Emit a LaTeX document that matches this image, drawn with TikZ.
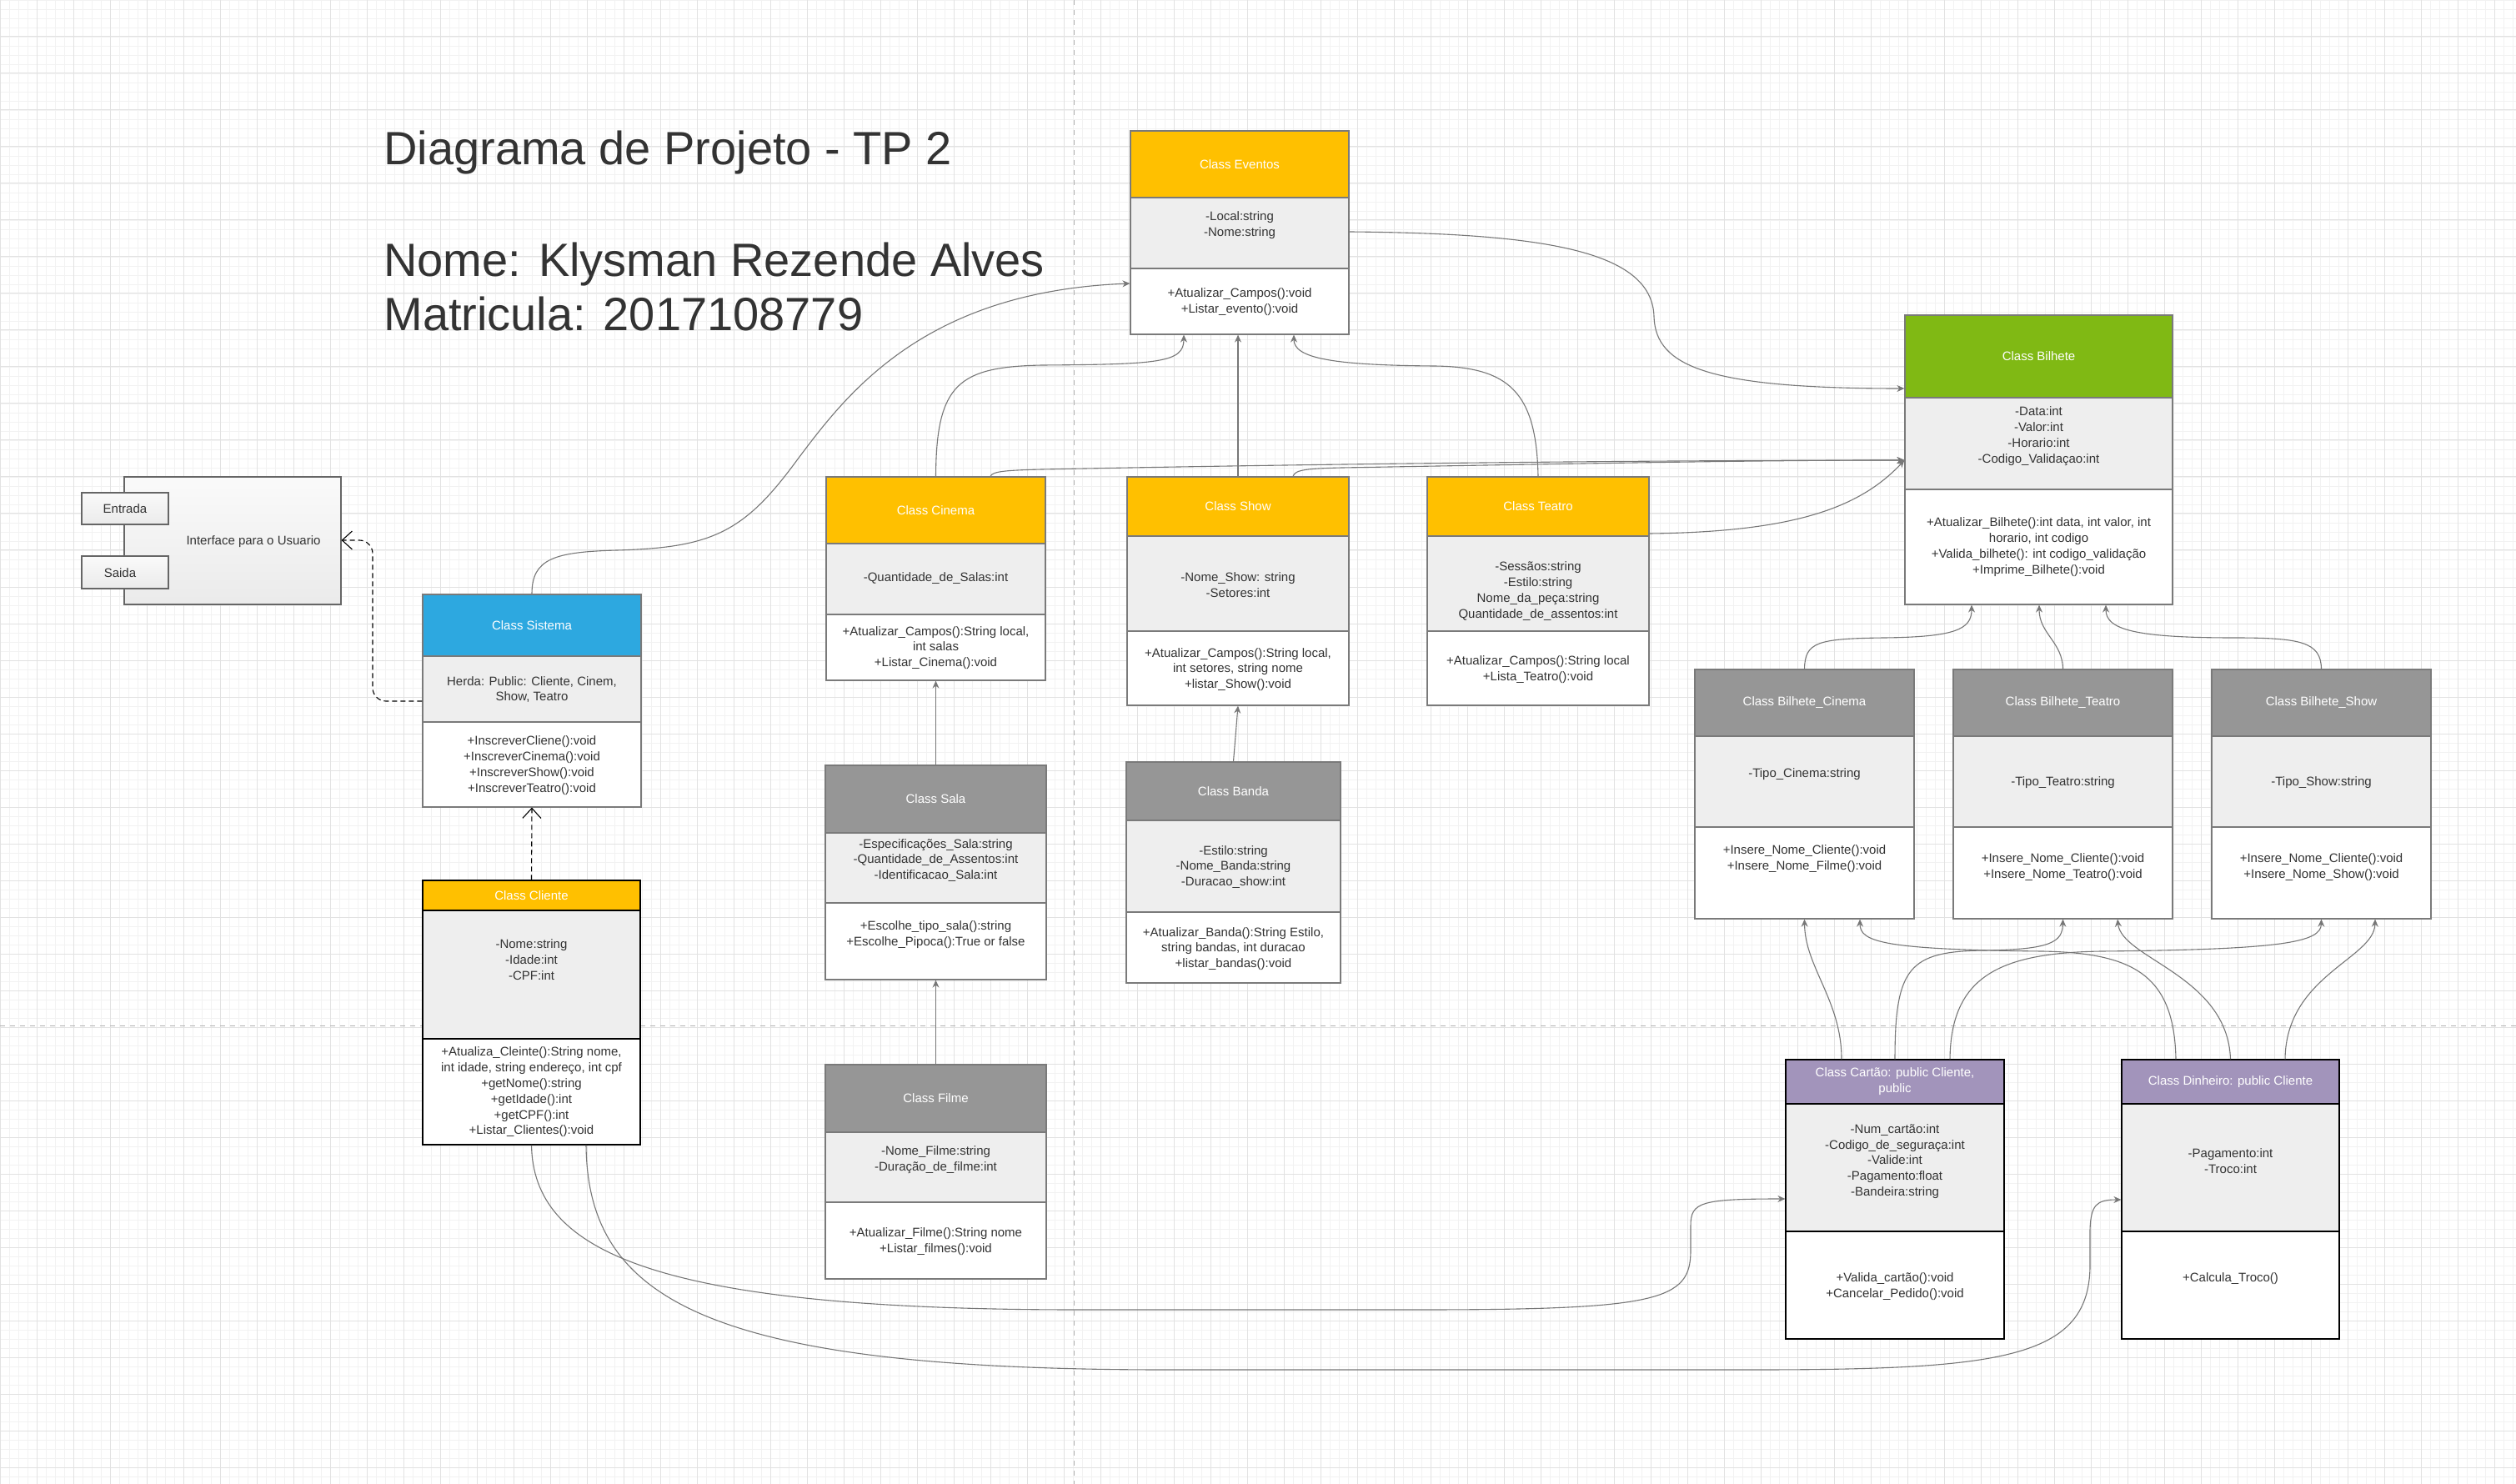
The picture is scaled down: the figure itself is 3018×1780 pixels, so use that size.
\documentclass[tikz,border=0pt]{standalone}
\usepackage{fontspec}
\setmainfont{Liberation Sans}
\usetikzlibrary{arrows.meta,fit}

\definecolor{hdryellow}{HTML}{FFC000}
\definecolor{hdrgreen}{HTML}{80B914}
\definecolor{hdrblue}{HTML}{2DA8E0}
\definecolor{hdrgray}{HTML}{969696}
\definecolor{hdrpurple}{HTML}{A294BB}
\definecolor{attrgray}{HTML}{EEEEEE}
\definecolor{boxline}{HTML}{7A7A7A}
\definecolor{txtdark}{HTML}{333333}
\definecolor{lnk}{HTML}{777777}
\definecolor{gridmin}{HTML}{F2F2F2}
\definecolor{gridmaj}{HTML}{E2E2E2}

\tikzset{
	sect/.style={inner sep=0pt, line width=0.6pt},
	ttl/.style={inner sep=0pt, align=center, text=white, font=\fontsize{7.5}{9.4}\selectfont},
	txt/.style={inner sep=0pt, align=center, text=txtdark, font=\fontsize{7.5}{9.4}\selectfont},
	bigtitle/.style={inner sep=0pt, anchor=base west, text=txtdark, font=\fontsize{28}{34}\selectfont},
	iface/.style={inner sep=0pt, draw=black!60, line width=0.6pt, top color=black!2, bottom color=black!8},
	conn/.style={draw=lnk, line width=0.55pt, -{Stealth[length=4.5pt,width=4pt]}},
	dep/.style={draw=black, line width=0.55pt, dash pattern=on 3pt off 2pt, -{Straight Barb[length=6pt,width=11pt]}},
	pagebrk/.style={draw=black!30, line width=0.5pt, dash pattern=on 3pt off 3pt},
}

\newcommand{\classbox}[9]{%
	\node[sect, fill=#2, draw=#3, fit={(#4,#6) (#5,#7)}] (#1-h) {};
	\node[sect, fill=attrgray, draw=#3, fit={(#4,#7) (#5,#8)}] (#1-a) {};
	\node[sect, fill=white, draw=#3, fit={(#4,#8) (#5,#9)}] (#1-m) {};
	\node[sect, draw=#3, fit={(#4,#6) (#5,#9)}] (#1) {};
}

\begin{document}
\begin{tikzpicture}[x=0.5pt, y=-0.5pt]
	\useasboundingbox (0,0) rectangle (3018,1780);
	\fill[white] (0,0) rectangle (3018,1780);
	\foreach \gx in {0,11,...,3018} \draw[gridmin, line width=0.4pt] (\gx,0) -- (\gx,1780);
	\foreach \gy in {0,11,...,1780} \draw[gridmin, line width=0.4pt] (0,\gy) -- (3018,\gy);
	\foreach \gx in {0,44,...,3018} \draw[gridmaj, line width=0.5pt] (\gx,0) -- (\gx,1780);
	\foreach \gy in {0,44,...,1780} \draw[gridmaj, line width=0.5pt] (0,\gy) -- (3018,\gy);
	\draw[pagebrk] (1288,0) -- (1288,1780);
	\draw[pagebrk] (0,1230) -- (3018,1230);

	\node[bigtitle] (titulo) at (460,198) {Diagrama de Projeto - TP 2};
	\node[bigtitle] (nome) at (460,332) {Nome: Klysman Rezende Alves};
	\node[bigtitle] (matricula) at (460,397) {Matricula: 2017108779};

	\node[iface, fit={(149,572) (409,725)}] (interface) {};
	\node[iface, fit={(98,591) (202,629)}] (entrada) {};
	\node[iface, fit={(98,667) (202,706)}] (saida) {};
	\node[txt] (interface-t) at (304,650) {Interface para o Usuario};
	\node[txt] (entrada-t) at (entrada) {Entrada};
	\node[txt] (saida-t) at (144,687) {Saida};

	\classbox{eventos}{hdryellow}{boxline}{1356}{1618}{157}{237}{322}{401}
	\node[ttl] (eventos-tt) at (eventos-h) {Class Eventos};
	\node[txt] (eventos-at) at (eventos-a |- 0,270) {-Local:string\\-Nome:string};
	\node[txt] (eventos-mt) at (eventos-m |- 0,362) {+Atualizar\_Campos():void\\+Listar\_evento():void};

	\classbox{bilhete}{hdrgreen}{boxline}{2285}{2606}{378}{477}{587}{725}
	\node[ttl] (bilhete-tt) at (bilhete-h) {Class Bilhete};
	\node[txt] (bilhete-at) at (bilhete-a |- 0,523) {-Data:int\\-Valor:int\\-Horario:int\\-Codigo\_Validaçao:int};
	\node[txt] (bilhete-mt) at (bilhete-m |- 0,656) {+Atualizar\_Bilhete():int data, int valor, int\\horario, int codigo\\+Valida\_bilhete(): int codigo\_validação\\+Imprime\_Bilhete():void};

	\classbox{cinema}{hdryellow}{boxline}{991}{1254}{572}{652}{737}{816}
	\node[ttl] (cinema-tt) at (cinema-h) {Class Cinema};
	\node[txt] (cinema-at) at (cinema-a |- 0,694) {-Quantidade\_de\_Salas:int};
	\node[txt] (cinema-mt) at (cinema-m |- 0,777) {+Atualizar\_Campos():String local,\\int salas\\+Listar\_Cinema():void};

	\classbox{show}{hdryellow}{boxline}{1352}{1618}{572}{643}{757}{846}
	\node[ttl] (show-tt) at (show-h) {Class Show};
	\node[txt] (show-at) at (show-a |- 0,702) {-Nome\_Show: string\\-Setores:int};
	\node[txt] (show-mt) at (show-m |- 0,803) {+Atualizar\_Campos():String local,\\int setores, string nome\\+listar\_Show():void};

	\classbox{teatro}{hdryellow}{boxline}{1712}{1978}{572}{643}{757}{846}
	\node[ttl] (teatro-tt) at (teatro-h) {Class Teatro};
	\node[txt] (teatro-at) at (teatro-a |- 0,709) {-Sessãos:string\\-Estilo:string\\Nome\_da\_peça:string\\Quantidade\_de\_assentos:int};
	\node[txt] (teatro-mt) at (teatro-m |- 0,803) {+Atualizar\_Campos():String local\\+Lista\_Teatro():void};

	\classbox{sistema}{hdrblue}{boxline}{507}{769}{713}{787}{866}{968}
	\node[ttl] (sistema-tt) at (sistema-h) {Class Sistema};
	\node[txt] (sistema-at) at (sistema-a |- 0,827) {Herda: Public: Cliente, Cinem,\\Show, Teatro};
	\node[txt] (sistema-mt) at (sistema-m |- 0,918) {+InscreverCliene():void\\+InscreverCinema():void\\+InscreverShow():void\\+InscreverTeatro():void};

	\classbox{cliente}{hdryellow}{black}{507}{768}{1056}{1092}{1246}{1373}
	\node[ttl] (cliente-tt) at (cliente-h) {Class Cliente};
	\node[txt] (cliente-at) at (cliente-a |- 0,1151) {-Nome:string\\-Idade:int\\-CPF:int};
	\node[txt] (cliente-mt) at (cliente-m |- 0,1310) {+Atualiza\_Cleinte():String nome,\\int idade, string endereço, int cpf\\+getNome():string\\+getIdade():int\\+getCPF():int\\+Listar\_Clientes():void};

	\classbox{sala}{hdrgray}{boxline}{990}{1255}{918}{999}{1083}{1175}
	\node[ttl] (sala-tt) at (sala-h) {Class Sala};
	\node[txt] (sala-at) at (sala-a |- 0,1032) {-Especificações\_Sala:string\\-Quantidade\_de\_Assentos:int\\-Identificacao\_Sala:int};
	\node[txt] (sala-mt) at (sala-m |- 0,1121) {+Escolhe\_tipo\_sala():string\\+Escolhe\_Pipoca():True or false};

	\classbox{filme}{hdrgray}{boxline}{990}{1255}{1277}{1358}{1442}{1534}
	\node[ttl] (filme-tt) at (filme-h) {Class Filme};
	\node[txt] (filme-at) at (filme-a |- 0,1391) {-Nome\_Filme:string\\-Duração\_de\_filme:int};
	\node[txt] (filme-mt) at (filme-m |- 0,1489) {+Atualizar\_Filme():String nome\\+Listar\_filmes():void};

	\classbox{banda}{hdrgray}{boxline}{1351}{1608}{914}{984}{1094}{1179}
	\node[ttl] (banda-tt) at (banda-h) {Class Banda};
	\node[txt] (banda-at) at (banda-a |- 0,1040) {-Estilo:string\\-Nome\_Banda:string\\-Duracao\_show:int};
	\node[txt] (banda-mt) at (banda-m |- 0,1138) {+Atualizar\_Banda():String Estilo,\\string bandas, int duracao\\+listar\_bandas():void};

	\classbox{bcinema}{hdrgray}{boxline}{2033}{2296}{803}{883}{992}{1102}
	\node[ttl] (bcinema-tt) at (bcinema-h) {Class Bilhete\_Cinema};
	\node[txt] (bcinema-at) at (bcinema-a |- 0,929) {-Tipo\_Cinema:string};
	\node[txt] (bcinema-mt) at (bcinema-m |- 0,1030) {+Insere\_Nome\_Cliente():void\\+Insere\_Nome\_Filme():void};

	\classbox{bteatro}{hdrgray}{boxline}{2343}{2606}{803}{883}{992}{1102}
	\node[ttl] (bteatro-tt) at (bteatro-h) {Class Bilhete\_Teatro};
	\node[txt] (bteatro-at) at (bteatro-a |- 0,939) {-Tipo\_Teatro:string};
	\node[txt] (bteatro-mt) at (bteatro-m |- 0,1040) {+Insere\_Nome\_Cliente():void\\+Insere\_Nome\_Teatro():void};

	\classbox{bshow}{hdrgray}{boxline}{2653}{2916}{803}{883}{992}{1102}
	\node[ttl] (bshow-tt) at (bshow-h) {Class Bilhete\_Show};
	\node[txt] (bshow-at) at (bshow-a |- 0,939) {-Tipo\_Show:string};
	\node[txt] (bshow-mt) at (bshow-m |- 0,1040) {+Insere\_Nome\_Cliente():void\\+Insere\_Nome\_Show():void};

	\classbox{cartao}{hdrpurple}{black}{2142}{2404}{1271}{1324}{1477}{1606}
	\node[ttl] (cartao-tt) at (cartao-h) {Class Cartão: public Cliente,\\public};
	\node[txt] (cartao-at) at (cartao-a |- 0,1393) {-Num\_cartão:int\\-Codigo\_de\_seguraça:int\\-Valide:int\\-Pagamento:float\\-Bandeira:string};
	\node[txt] (cartao-mt) at (cartao-m |- 0,1543) {+Valida\_cartão():void\\+Cancelar\_Pedido():void};

	\classbox{dinheiro}{hdrpurple}{black}{2545}{2806}{1271}{1324}{1477}{1606}
	\node[ttl] (dinheiro-tt) at (dinheiro-h) {Class Dinheiro: public Cliente};
	\node[txt] (dinheiro-at) at (dinheiro-a |- 0,1393) {-Pagamento:int\\-Troco:int};
	\node[txt] (dinheiro-mt) at (dinheiro-m |- 0,1534) {+Calcula\_Troco()};

	\draw[dep, rounded corners=8pt] (sistema.west |- 0,841) -| (447,648) -- (interface.east |- 0,648);
	\draw[dep] (cliente.north) -- (sistema.south);

	\draw[conn] (sistema.north) .. controls (638,670) and (665,662) .. (740,660) .. controls (850,657) and (890,640) .. (950,560) .. controls (1010,480) and (1100,350) .. (eventos.west |- 0,340);
	\draw[conn] (cinema.north) .. controls (1123,460) and (1150,440) .. (1250,438) .. controls (1390,437) and (1420,435) .. (1420,0 |- eventos.south);
	\draw[conn] (show.north) -- (show.north |- eventos.south);
	\draw[conn] (teatro.north) .. controls (1843,470) and (1810,440) .. (1720,439) .. controls (1600,438) and (1552,430) .. (1552,0 |- eventos.south);
	\draw[conn] (eventos-a.east |- 0,278) .. controls (1850,280) and (1982,300) .. (1984,380) .. controls (1986,440) and (2050,466) .. (bilhete.west |- 0,466);

	\draw[conn] (1188,0 |- cinema.north) .. controls (1190,565) and (1210,564) .. (1250,563) .. controls (1600,556) and (2000,552) .. (bilhete.west |- 0,552);
	\draw[conn] (1551,0 |- show.north) .. controls (1553,563) and (1570,562) .. (1610,561) .. controls (1900,556) and (2100,552) .. (bilhete.west |- 0,552);
	\draw[conn] (teatro.east |- 0,640) .. controls (2150,638) and (2230,610) .. (bilhete.west |- 0,552);

	\draw[conn] (sala.north) -- (cinema.south);
	\draw[conn] (filme.north) -- (sala.south);
	\draw[conn] (banda.north) -- (show.south);

	\draw[conn] (bcinema.north) .. controls (2165,770) and (2180,766) .. (2260,765) .. controls (2345,764) and (2365,755) .. (2365,0 |- bilhete.south);
	\draw[conn] (bteatro.north) .. controls (2474,770) and (2446,760) .. (2446,0 |- bilhete.south);
	\draw[conn] (bshow.north) .. controls (2784,770) and (2760,765) .. (2680,765) .. controls (2560,765) and (2526,755) .. (2526,0 |- bilhete.south);

	\draw[conn] (2209,0 |- cartao.north) .. controls (2209,1200) and (2165,1160) .. (bcinema.south);
	\draw[conn] (cartao.north) .. controls (2273,1160) and (2290,1141) .. (2380,1140) .. controls (2460,1139) and (2474,1130) .. (bteatro.south);
	\draw[conn] (2339,0 |- cartao.north) .. controls (2340,1170) and (2400,1143) .. (2520,1141) .. controls (2740,1139) and (2784,1130) .. (bshow.south);
	\draw[conn] (2610,0 |- dinheiro.north) .. controls (2608,1170) and (2560,1143) .. (2450,1141) .. controls (2260,1139) and (2231,1130) .. (2231,0 |- bcinema.south);
	\draw[conn] (dinheiro.north) .. controls (2672,1170) and (2545,1150) .. (2540,0 |- bteatro.south);
	\draw[conn] (2741,0 |- dinheiro.north) .. controls (2742,1170) and (2848,1150) .. (2849,0 |- bshow.south);

	\draw[conn] (cliente.south) .. controls (640,1500) and (780,1571) .. (1294,1571) -- (1700,1571) .. controls (1990,1571) and (2028,1560) .. (2028,1500) -- (2028,1470) .. controls (2028,1442) and (2040,1438) .. (cartao.west |- 0,1438);
	\draw[conn] (703,0 |- cliente.south) .. controls (705,1560) and (850,1643) .. (1400,1643) -- (2100,1643) .. controls (2400,1643) and (2505,1630) .. (2507,1520) -- (2507,1475) .. controls (2508,1445) and (2515,1439) .. (dinheiro.west |- 0,1439);
\end{tikzpicture}
\end{document}
